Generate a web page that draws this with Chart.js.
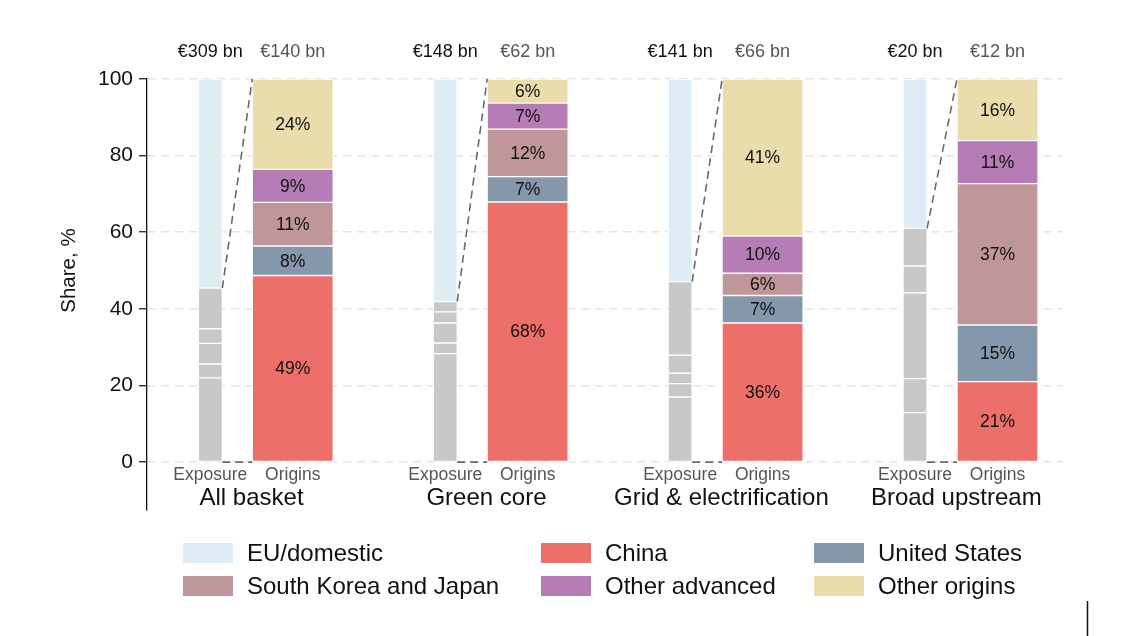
<!DOCTYPE html>
<html>
<head>
<meta charset="utf-8">
<script src="https://cdn.jsdelivr.net/npm/chart.js@4.4.1/dist/chart.umd.min.js"></script>
<style>
  html, body { margin: 0; padding: 0; background: #fff; }
  #wrap { width: 1124px; height: 636px; position: relative; }
</style>
</head>
<body>
<div id="wrap"><canvas id="chart"></canvas></div>
<script>
// ---- data ----
const groups = ['All basket', 'Green core', 'Grid & electrification', 'Broad upstream'];
const exposureBn = [309, 148, 141, 20];
const originsBn = [140, 62, 66, 12];
const yTicks = [0, 20, 40, 60, 80, 100];

// exposure bar: EU/domestic share on top, non-EU part split in grey
const euDomestic = [54.6, 58.1, 52.9, 39.0];
const expChina = [22.0, 28.3, 17.0, 12.9];
const expUS = [3.6, 2.8, 3.5, 8.9];
const expKorJap = [5.4, 5.2, 2.7, 22.4];
const expOtherAdv = [3.8, 2.9, 4.7, 7.0];
const expOther = [10.6, 2.7, 19.2, 9.8];

// origins bar: shares of the non-EU part
const origChina = [48.7, 67.9, 36.3, 21.0];
const origUS = [7.7, 6.6, 7.2, 14.8];
const origKorJap = [11.4, 12.4, 5.8, 36.9];
const origOtherAdv = [8.6, 6.8, 9.7, 11.2];
const origOther = [23.6, 6.3, 41.0, 16.1];

const originNames = ['China', 'United States', 'South Korea and Japan', 'Other advanced', 'Other origins'];

// ---- styles ----
const FONT = '"Liberation Sans", Arial, Helvetica, sans-serif';
const GREY = '#c8c8c8';
const EU_COLOR = '#deecf6';
const originColors = ['#ed6f6a', '#8497ab', '#bf9699', '#b57cb6', '#e8ddab'];
const OFFSET = 0.1755;   // half distance between exposure and origins bars (in group units)
const EXP_W = 24, ORIG_W = 81;

Chart.defaults.font.family = FONT;

const xPos = (i, side) => i + 1 + side * OFFSET;

const greyParts = [expChina, expUS, expKorJap, expOtherAdv, expOther];
const originParts = [origChina, origUS, origKorJap, origOtherAdv, origOther];

const datasets = [];
greyParts.forEach((vals, k) => {
    datasets.push({
        label: 'Exposure: ' + originNames[k],
        kind: 'grey',
        data: vals.map((v, i) => ({x: xPos(i, -1), y: v})),
        backgroundColor: GREY,
        barThickness: EXP_W
    });
});
datasets.push({
    label: 'EU/domestic',
    kind: 'eu',
    data: euDomestic.map((v, i) => ({x: xPos(i, -1), y: v})),
    backgroundColor: EU_COLOR,
    barThickness: EXP_W
});
originParts.forEach((vals, k) => {
    datasets.push({
        label: originNames[k],
        kind: 'origin',
        data: vals.map((v, i) => ({x: xPos(i, 1), y: v})),
        backgroundColor: originColors[k],
        barThickness: ORIG_W
    });
});

const legendItems = [
    ['EU/domestic', EU_COLOR],
    ['China', originColors[0]],
    ['United States', originColors[1]],
    ['South Korea and Japan', originColors[2]],
    ['Other advanced', originColors[3]],
    ['Other origins', originColors[4]]
];

function dashed(ctx, x1, y1, x2, y2) {
    ctx.beginPath();
    ctx.moveTo(x1, y1);
    ctx.lineTo(x2, y2);
    ctx.stroke();
}

const overlay = {
    id: 'overlay',
    afterDatasetsDraw(chart) {
        const {ctx, scales: {x, y}} = chart;
        const ds = chart.data.datasets;
        const y0 = y.getPixelForValue(0);
        const y100 = y.getPixelForValue(100);
        const lastGrey = ds.findIndex(d => d.kind === 'eu') - 1;
        const firstOrigin = ds.findIndex(d => d.kind === 'origin');
        ctx.save();

        // percentage labels inside the origins bars
        ctx.fillStyle = '#111';
        ctx.font = '17.5px ' + FONT;
        ctx.textAlign = 'center';
        ctx.textBaseline = 'middle';
        ds.forEach((d, di) => {
            if (d.kind !== 'origin') return;
            chart.getDatasetMeta(di).data.forEach((bar, i) => {
                ctx.fillText(Math.round(d.data[i].y) + '%', bar.x, (bar.y + bar.base) / 2 + 1);
            });
        });

        // dashed connectors
        ctx.strokeStyle = '#6a6a6a';
        ctx.lineWidth = 1.6;
        ctx.setLineDash([8, 5]);
        groups.forEach((g, i) => {
            const eb = chart.getDatasetMeta(lastGrey).data[i];
            const ob = chart.getDatasetMeta(firstOrigin).data[i];
            const xl = eb.x + eb.width / 2;
            const xr = ob.x - ob.width / 2;
            dashed(ctx, xl, eb.y, xr, y100);
            dashed(ctx, xl, y0, xr, y0);
        });
        ctx.setLineDash([]);

        // totals above bars
        ctx.font = '18px ' + FONT;
        ctx.textBaseline = 'alphabetic';
        groups.forEach((g, i) => {
            ctx.fillStyle = '#111';
            ctx.fillText('€' + exposureBn[i] + ' bn', x.getPixelForValue(xPos(i, -1)), y100 - 22);
            ctx.fillStyle = '#555';
            ctx.fillText('€' + originsBn[i] + ' bn', x.getPixelForValue(xPos(i, 1)), y100 - 22);
        });

        // bar labels and group names under zero line
        groups.forEach((g, i) => {
            ctx.font = '17.5px ' + FONT;
            ctx.fillStyle = '#555';
            ctx.fillText('Exposure', x.getPixelForValue(xPos(i, -1)), y0 + 18);
            ctx.fillText('Origins', x.getPixelForValue(xPos(i, 1)), y0 + 18);
            ctx.font = '24px ' + FONT;
            ctx.fillStyle = '#111';
            ctx.fillText(g, x.getPixelForValue(i + 1), y0 + 43);
        });

        // y title, centred on the 0-100 range
        ctx.save();
        ctx.translate(69, (y0 + y100) / 2);
        ctx.rotate(-Math.PI / 2);
        ctx.font = '20.5px ' + FONT;
        ctx.textBaseline = 'middle';
        ctx.fillStyle = '#111';
        ctx.fillText('Share, %', 0, 0);
        ctx.restore();

        ctx.restore();
    },
    afterDraw(chart) {
        const ctx = chart.ctx;
        const cols = [183, 541, 814];
        const rows = [553, 586];
        ctx.save();
        ctx.font = '24px ' + FONT;
        ctx.textBaseline = 'middle';
        ctx.textAlign = 'left';
        legendItems.forEach(([name, color], k) => {
            const cx = cols[k % 3];
            const cy = rows[Math.floor(k / 3)];
            ctx.fillStyle = color;
            ctx.fillRect(cx, cy - 10, 50, 20);
            ctx.fillStyle = '#111';
            ctx.fillText(name, cx + 64, cy + 1);
        });
        // frame fragment at bottom right
        ctx.strokeStyle = '#111';
        ctx.lineWidth = 1.5;
        ctx.beginPath();
        ctx.moveTo(1087.5, 601);
        ctx.lineTo(1087.5, 636);
        ctx.stroke();
        ctx.restore();
    }
};

new Chart(document.getElementById('chart'), {
    type: 'bar',
    data: { datasets },
    options: {
        responsive: true,
        maintainAspectRatio: false,
        animation: false,
        layout: { padding: { top: 79, right: 62, bottom: 126, left: 0 } },
        plugins: {
            legend: { display: false },
            tooltip: { enabled: false }
        },
        datasets: {
            bar: { grouped: false, borderColor: '#ffffff', borderWidth: 1, borderSkipped: false }
        },
        scales: {
            x: {
                type: 'linear',
                display: false,
                min: 0.555,
                max: 4.45,
                offset: false,
                stacked: true
            },
            y: {
                stacked: true,
                min: -12.5,
                max: 100,
                afterBuildTicks: s => { s.ticks = yTicks.map(v => ({ value: v })); },
                afterFit: s => { s.width = 147; },
                ticks: { color: '#111', font: { size: 21 }, padding: 6 },
                grid: { color: '#e4e4e4', lineWidth: 1.5, tickLength: 8, tickColor: '#111', tickWidth: 1.2, tickBorderDash: [] },
                border: { display: true, color: '#111', width: 1.3, dash: [8, 6] }
            }
        }
    },
    plugins: [overlay]
});
</script>
</body>
</html>
